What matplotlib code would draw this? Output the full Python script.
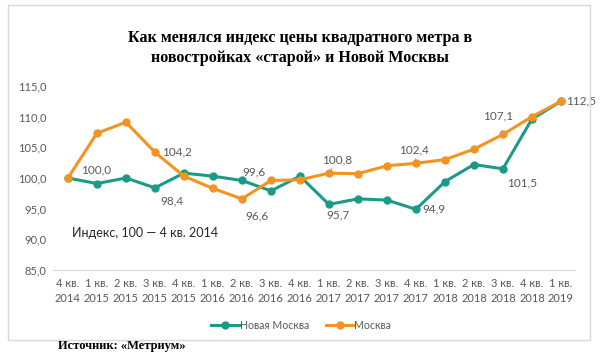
import numpy as np
import matplotlib.pyplot as plt
from matplotlib.patches import Rectangle

plt.rcParams["font.family"] = ["Lato", "DejaVu Sans"]

quarters = ["4 кв.\n2014", "1 кв.\n2015", "2 кв.\n2015", "3 кв.\n2015", "4 кв.\n2015",
            "1 кв.\n2016", "2 кв.\n2016", "3 кв.\n2016", "4 кв.\n2016",
            "1 кв.\n2017", "2 кв.\n2017", "3 кв.\n2017", "4 кв.\n2017",
            "1 кв.\n2018", "2 кв.\n2018", "3 кв.\n2018", "4 кв.\n2018", "1 кв.\n2019"]
new_moscow = [100.0, 99.1, 100.0, 98.4, 100.8, 100.3, 99.6, 97.9, 100.3,
              95.7, 96.6, 96.4, 94.9, 99.4, 102.2, 101.5, 109.6, 112.5]
moscow = [100.0, 107.3, 109.1, 104.2, 100.3, 98.3, 96.6, 99.6, 99.7,
          100.8, 100.7, 102.0, 102.4, 103.0, 104.7, 107.1, 110.0, 112.5]
yticks = [85, 90, 95, 100, 105, 110, 115]

teal = "#1b9a88"
orange = "#f39322"
gray = "#595959"

fig = plt.figure(figsize=(6, 3.55), dpi=100)
fig.patches.append(Rectangle((0.013, 0.042), 0.970, 0.944, transform=fig.transFigure,
                             fill=False, edgecolor="#d9d9d9", linewidth=1))

ax = fig.add_axes([0.089, 0.2394, 0.870, 0.5183])
x = np.arange(len(quarters))
ax.plot(x, new_moscow, color=teal, lw=2.2, marker="o", ms=5, label="Новая Москва")
ax.plot(x, moscow, color=orange, lw=2.2, marker="o", ms=5, label="Москва")

ax.set_xlim(-0.5, len(quarters) - 0.5)
ax.set_ylim(85, 115)
ax.set_yticks(yticks)
ax.set_yticklabels([f"{v:.1f}".replace(".", ",") for v in yticks])
ax.set_xticks(x)
ax.set_xticklabels(quarters, linespacing=1.4)
ax.tick_params(length=0, colors=gray, labelsize=8)
ax.tick_params(axis="y", pad=5)
ax.tick_params(axis="x", pad=6)
for s in ["top", "right", "left"]:
    ax.spines[s].set_visible(False)
ax.spines["bottom"].set_color("#d9d9d9")

# data labels: (series, index, dx, dy in pixels, leader line)
labels = [
    (moscow, 0, 28, 8, False),
    (new_moscow, 3, 17, -13, False),
    (moscow, 3, 22, 0, False),
    (moscow, 7, -17, 9, False),
    (moscow, 6, 15, -17, True),
    (moscow, 9, 8, 13, True),
    (new_moscow, 9, 9, -11, False),
    (moscow, 12, -2, 13, True),
    (new_moscow, 12, 18, 0, False),
    (new_moscow, 15, 19, -14, False),
    (moscow, 15, -5, 19, True),
]
for ser, i, dx, dy, lead in labels:
    ax.annotate(f"{ser[i]:.1f}".replace(".", ","), (i, ser[i]), xytext=(dx, dy),
                textcoords="offset pixels", ha="center", va="center",
                fontsize=8.5, color=gray,
                arrowprops=dict(arrowstyle="-", color="#a6a6a6", lw=0.8,
                                shrinkA=5, shrinkB=3) if lead else None)
ax.annotate("112,5", (17, moscow[17]), xytext=(5, 0), textcoords="offset pixels",
            ha="left", va="center", fontsize=8.5, color=gray)

ax.text(0.035, 0.2, "Индекс, 100 — 4 кв. 2014", transform=ax.transAxes,
        fontsize=9, color="#262626", va="center")

ax.legend(loc="center", bbox_to_anchor=(0.475, -0.30), ncol=2, frameon=False,
          fontsize=7.6, labelcolor=gray, handlelength=2.6, handletextpad=0.1,
          columnspacing=1.6)

fig.text(0.5, 0.865, "Как менялся индекс цены квадратного метра в\nновостройках «старой» и Новой Москвы",
         ha="center", va="center", fontsize=11.6, fontweight="bold",
         family="Liberation Serif", linespacing=1.3)
fig.text(0.097, 0.025, "Источник: «Метриум»", ha="left", va="center",
         fontsize=9, fontweight="bold", family="Liberation Serif")

fig.savefig("out.png", dpi=100)
